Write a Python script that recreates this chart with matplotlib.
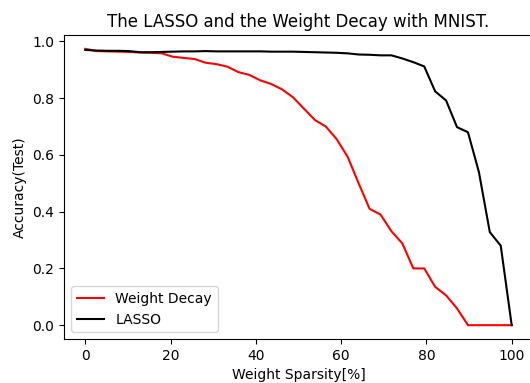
import numpy as np
import matplotlib
matplotlib.use("Agg")
import matplotlib.pyplot as plt

sparsity = np.linspace(0, 100, 40)
weight_decay = [0.974, 0.966, 0.965, 0.964, 0.963, 0.961, 0.960, 0.958, 0.946, 0.942,
                0.938, 0.925, 0.920, 0.911, 0.892, 0.882, 0.863, 0.850, 0.831, 0.803,
                0.763, 0.723, 0.700, 0.655, 0.593, 0.500, 0.410, 0.390, 0.331, 0.288,
                0.200, 0.200, 0.135, 0.105, 0.059, 0.0, 0.0, 0.0, 0.0, 0.0]
lasso = [0.970, 0.968, 0.967, 0.967, 0.966, 0.962, 0.962, 0.963, 0.964, 0.965,
         0.965, 0.966, 0.965, 0.965, 0.965, 0.965, 0.965, 0.964, 0.964, 0.964,
         0.963, 0.962, 0.961, 0.960, 0.958, 0.954, 0.953, 0.951, 0.951, 0.940,
         0.927, 0.912, 0.824, 0.792, 0.698, 0.680, 0.540, 0.328, 0.280, 0.0]

fig = plt.figure(figsize=(5.30, 3.83), dpi=100)
ax = fig.add_axes([64/530, 44/383, 469/530, 304/383])
ax.plot(sparsity, weight_decay, color="red", label="Weight Decay")
ax.plot(sparsity, lasso, color="black", label="LASSO")
ax.set_title("The LASSO and the Weight Decay with MNIST.")
ax.set_xlabel("Weight Sparsity[%]")
ax.set_ylabel("Accuracy(Test)")
ax.legend(loc="lower left")
fig.savefig("out.png", dpi=100)
